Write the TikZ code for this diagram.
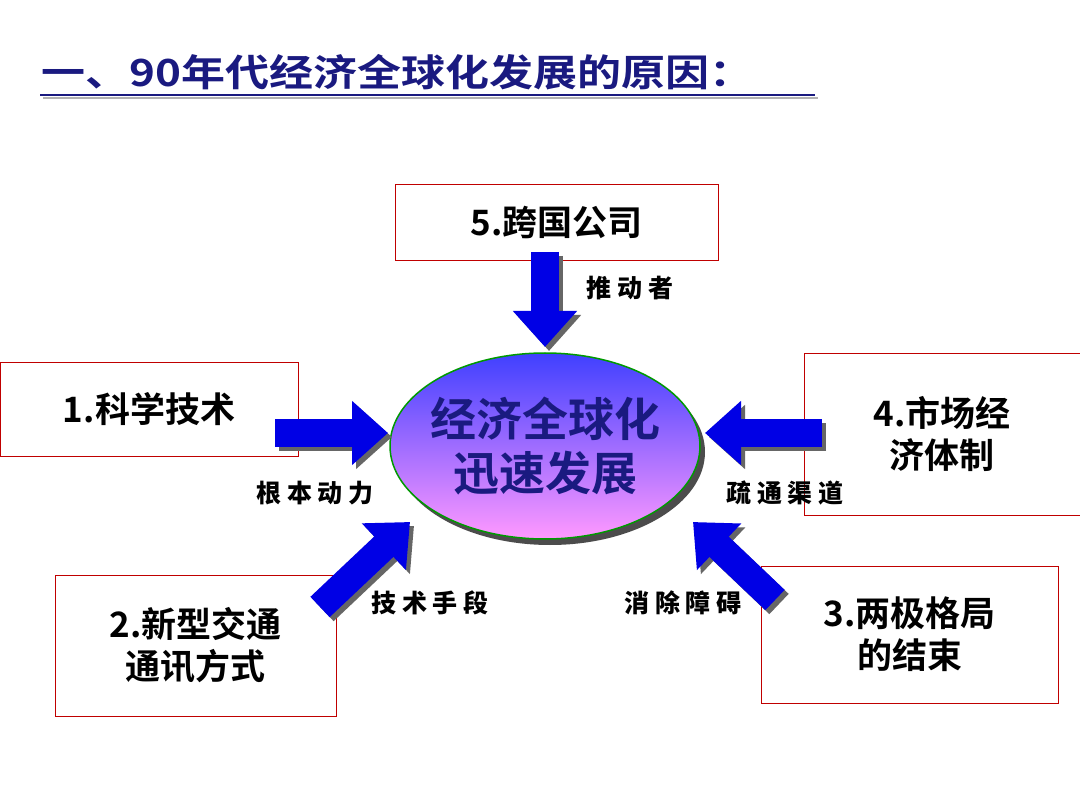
\documentclass[tikz,border=0pt]{standalone}
\usepackage{fontspec}
\setmainfont{Liberation Sans}
\newfontfamily\cjk{Noto Sans CJK SC Bold}
\newfontfamily\cjkb{Noto Sans CJK SC Black}
\usetikzlibrary{arrows.meta,shadows}
\definecolor{boxred}{HTML}{C00000}
\definecolor{navy}{HTML}{1A1A80}
\begin{document}
\begin{tikzpicture}[x=1pt,y=-1pt,
  box/.style={draw=boxred,line width=0.8pt,fill=white,align=center,font=\cjk\fontsize{35}{42}\selectfont,inner sep=0pt},
  lab/.style={font=\cjkb\fontsize{25}{27}\selectfont},
  barrow/.style={line width=28pt,draw=blue!90!black,-{Triangle[width=62pt,length=36pt]}},
  sarrow/.style={line width=28pt,draw=black!60,-{Triangle[width=62pt,length=36pt]}}]
\useasboundingbox (0,0) rectangle (1080,810);
\fill[white] (0,0) rectangle (1080,810);
% title
\node[anchor=west,text=navy,font=\cjk\fontsize{44}{50}\selectfont,xscale=1.0,yscale=0.85] (title) at (38,72) {一、90年代经济全球化发展的原因：};
\draw[gray!60,line width=2pt] (43,98) -- (818,98);
\draw[navy,line width=2pt] (40,95) -- (815,95);
% boxes
\node[box,minimum width=323pt,minimum height=76pt] (b5) at (556.5,222) {5.跨国公司};
\node[box,minimum width=298pt,minimum height=94pt] (b1) at (149,409) {1.科学技术};
\node[box,minimum width=276pt,minimum height=162pt] (b4) at (942,434) {4.市场经\\济体制};
\node[box,minimum width=281pt,minimum height=141pt] (b2) at (195.5,645.5) {2.新型交通\\通讯方式};
\node[box,minimum width=297pt,minimum height=137pt] (b3) at (909.5,634.5) {3.两极格局\\的结束};
% ellipse
\fill[black!70] (550,452) ellipse [x radius=155,y radius=93];
\shade[top color=blue!75!white,bottom color=magenta!40!white,draw=green!60!black,line width=1.5pt] (545,446) ellipse [x radius=155,y radius=93];
\node[align=center,text=navy,font=\cjk\fontsize{46}{54}\selectfont] (c) at (545,446) {经济全球化\\迅速发展};
% arrows
\coordinate (a5s) at (545,252); \coordinate (a5e) at (545,347);
\coordinate (a1s) at (275,433); \coordinate (a1e) at (388,433);
\coordinate (a4s) at (822,433); \coordinate (a4e) at (705,433);
\coordinate (a2s) at (320,607); \coordinate (a2e) at (410,522);
\coordinate (a3s) at (775,600); \coordinate (a3e) at (693,522);
\foreach \s/\e in {a5s/a5e,a1s/a1e,a4s/a4e,a2s/a2e,a3s/a3e}{
  \draw[sarrow,transform canvas={shift={(4pt,-4pt)}}] (\s) -- (\e);}
\foreach \s/\e in {a5s/a5e,a1s/a1e,a4s/a4e,a2s/a2e,a3s/a3e}{
  \draw[barrow] (\s) -- (\e);}
% labels
\node[lab] (l5) at (630,288) {推 动 者};
\node[lab] (l1) at (315,493) {根 本 动 力};
\node[lab] (l4) at (785,493) {疏 通 渠 道};
\node[lab] (l2) at (430,603) {技 术 手 段};
\node[lab] (l3) at (683,603) {消 除 障 碍};
\end{tikzpicture}
\end{document}
